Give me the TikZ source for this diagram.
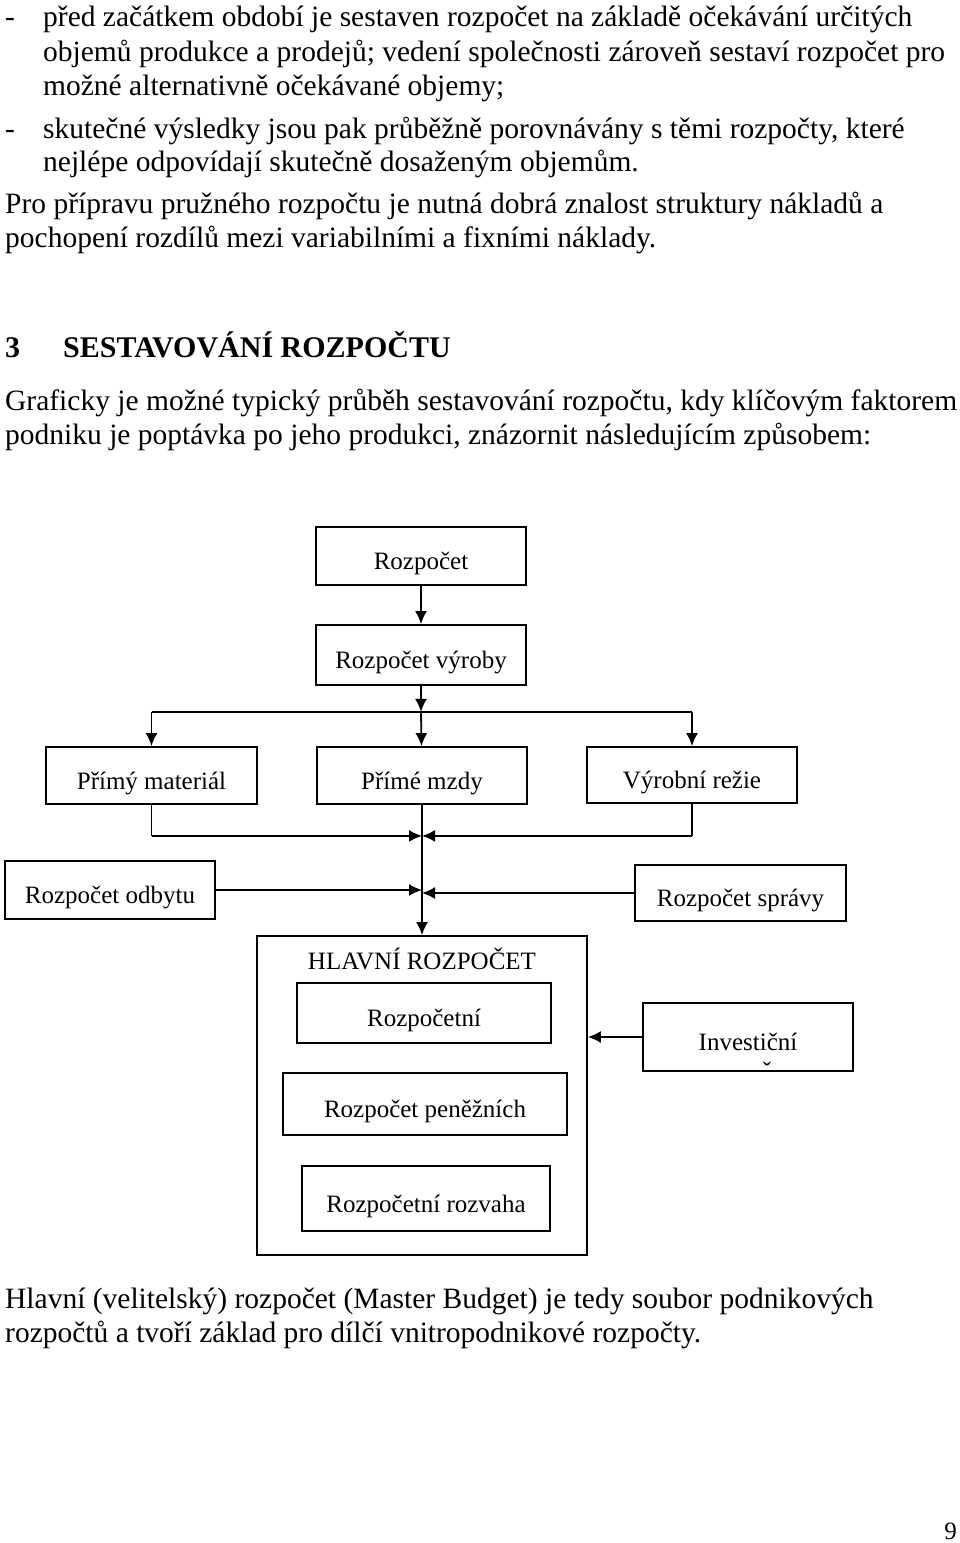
\documentclass[tikz,border=0pt]{standalone}
\usepackage{fontspec}
\setmainfont{Liberation Serif}
\usetikzlibrary{positioning}
\usetikzlibrary{calc}
\usetikzlibrary{arrows.meta}

\begin{document}
\begin{tikzpicture}[x=1pt, y=-1pt]
% -------------------------------------------------
\tikzset{
  base/.style={draw, line width=1.8pt, align=center, inner sep=0pt,
    font=\fontsize{25}{29}\selectfont, text height=32pt, text depth=5pt},
  box/.style={base, rectangle, minimum width=210pt, minimum height=58pt},
  para/.style={anchor=base west, inner sep=0pt, font=\fontsize{29.5}{34}\selectfont},
  head/.style={para, font=\fontsize{30}{34}\selectfont\bfseries},
  line/.style={draw, line width=1.8pt, -{Latex[length=13pt, width=12pt]}},
  bus/.style={draw, line width=1.8pt}
}
\useasboundingbox (0,0) rectangle (960,1543);
% -------------------------------------------------
% Text above the chart

\node [para] (d1) at (5,26) {-};
\node [para] (t1) at (43,26) {před začátkem období je sestaven rozpočet na základě očekávání určitých};
\node [para] (t2) at (43,61) {objemů produkce a prodejů; vedení společnosti zároveň sestaví rozpočet pro};
\node [para] (t3) at (43,95) {možné alternativně očekávané objemy;};
\node [para] (d2) at (5,138) {-};
\node [para] (t4) at (43,138) {skutečné výsledky jsou pak průběžně porovnávány s těmi rozpočty, které};
\node [para] (t5) at (43,171) {nejlépe odpovídají skutečně dosaženým objemům.};
\node [para] (t6) at (5,213) {Pro přípravu pružného rozpočtu je nutná dobrá znalost struktury nákladů a};
\node [para] (t7) at (5,247) {pochopení rozdílů mezi variabilními a fixními náklady.};
\node [head] (hnum) at (5,357) {3};
\node [head] (htit) at (63,357) {SESTAVOVÁNÍ ROZPOČTU};
\node [para] (t8) at (5,410) {Graficky je možné typický průběh sestavování rozpočtu, kdy klíčovým faktorem};
\node [para] (t9) at (5,444) {podniku je poptávka po jeho produkci, znázornit následujícím způsobem:};

% -------------------------------------------------
% Placing the boxes

\node [box] (rozp) at (421,556) {Rozpočet};
\node [box, minimum height=60pt] (vyr) at (421,655) {Rozpočet výroby};
\node [box, minimum width=211pt, minimum height=57pt] (mat) at (151.5,775.5) {Přímý materiál};
\node [box, minimum height=57pt] (mzd) at (422,775.5) {Přímé mzdy};
\node [box, minimum height=56pt] (rez) at (692,775) {Výrobní režie};
\node [box] (odb) at (110,890) {Rozpočet odbytu};
\node [box, minimum width=211pt, minimum height=56pt] (spr) at (740.5,893) {Rozpočet správy};
\node [base, minimum width=330pt, minimum height=319pt] (hlav) at (422,1095.5) {};
\node [anchor=base, inner sep=0pt, font=\fontsize{25}{29}\selectfont] (hlt) at (422,969) {HLAVNÍ ROZPOČET};
\node [box, minimum width=254pt, minimum height=60pt] (rzn) at (424,1013) {Rozpočetní};
\node [box, minimum height=68pt] (inv) at (748,1037) {Investiční};
\node [anchor=base, inner sep=0pt, font=\fontsize{25}{29}\selectfont] (invc) at (767,1079) {ˇ};
\node [box, minimum width=284pt, minimum height=62pt] (pen) at (425,1104) {Rozpočet peněžních};
\node [box, minimum width=248pt, minimum height=65pt] (rzv) at (426,1198.5) {Rozpočetní rozvaha};

% -------------------------------------------------
% Connectors

\coordinate (split) at ($(vyr.south)+(0,26)$);
\coordinate (join) at ($(mzd.south)+(0,31)$);

\path [line] (rozp) -- (vyr);
\path [line] (vyr) -- (split);
\path [bus] (mat.north |- split) -- (rez.north |- split);
\path [line] (mat.north |- split) -- (mat);
\path [line] (split) -- (mzd);
\path [line] (rez.north |- split) -- (rez);

\path [bus] (mat.south) -- (mat.south |- join);
\path [line] (mat.south |- join) -- (join);
\path [bus] (rez.south) -- (rez.south |- join);
\path [line] (rez.south |- join) -- (join);
\path [line] (mzd) -- (mzd.south |- hlav.north);
\path [line] (odb) -- (odb -| mzd.south);
\path [line] (spr) -- (spr -| mzd.south);
\path [line] (inv) -- (inv -| hlav.east);

% -------------------------------------------------
% Text below the chart

\node [para] (t10) at (5,1308) {Hlavní (velitelský) rozpočet (Master Budget) je tedy soubor podnikových};
\node [para] (t11) at (5,1342) {rozpočtů a tvoří základ pro dílčí vnitropodnikové rozpočty.};
\node [anchor=base east, inner sep=0pt, font=\fontsize{25}{29}\selectfont] (pg) at (957,1539) {9};

\end{tikzpicture}
\end{document}
